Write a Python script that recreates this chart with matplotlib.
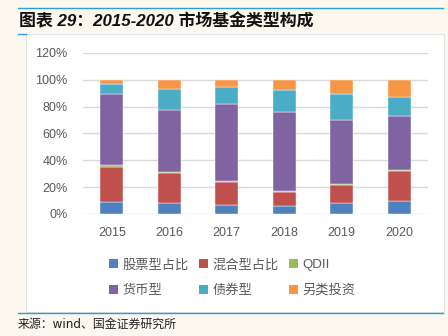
import matplotlib
matplotlib.use('Agg')
import matplotlib.pyplot as plt
from matplotlib.patches import Rectangle, Patch
from matplotlib.lines import Line2D
import numpy as np

plt.rcParams['font.family'] = ['Liberation Sans', 'Noto Sans CJK SC', 'DejaVu Sans']

years = ['2015', '2016', '2017', '2018', '2019', '2020']
series_names = ['股票型占比', '混合型占比', 'QDII', '货币型', '债券型', '另类投资']
stock = [9.2, 7.9, 6.7, 6.2, 8.2, 10.0]
mixed = [25.9, 22.3, 17.1, 10.0, 13.4, 22.3]
qdii = [1.2, 1.2, 0.5, 1.2, 0.5, 0.4]
money = [53.3, 46.3, 57.9, 58.5, 48.0, 40.2]
bond = [7.4, 15.1, 12.4, 16.6, 19.5, 14.2]
other = [3.0, 7.2, 5.4, 7.5, 10.4, 12.9]
colors = ['#4F81BD', '#C0504D', '#9BBB59', '#8064A2', '#4BACC6', '#F79646']

W, H = 448, 336
fig = plt.figure(figsize=(4.48, 3.36), dpi=100)
fig.patch.set_facecolor('#FCF8EF')

# white panel and blue rules
fig.patches.append(Rectangle((26 / W, 1 - 312 / H), 418 / W, 278 / H, transform=fig.transFigure,
                             facecolor='white', edgecolor='#E3E3E3', lw=0.8, zorder=-5))
blue = '#2A9FDB'
fig.add_artist(Line2D([18 / W, 443 / W], [1 - 8 / H] * 2, color=blue, lw=1.0))
fig.add_artist(Line2D([18 / W, 26 / W], [1 - 34 / H] * 2, color=blue, lw=1.0))
fig.add_artist(Line2D([18 / W, 443 / W], [1 - 313 / H] * 2, color=blue, lw=1.0))

fig.text(19 / W, 1 - 21 / H, '图表 29：2015-2020 市场基金类型构成', fontsize=12.2, fontweight='bold',
         style='italic', va='center', ha='left', color='#111111')
fig.text(18 / W, 1 - 324 / H, '来源：wind、国金证券研究所', fontsize=8.6, va='center', ha='left',
         color='#222222', family=['DejaVu Sans', 'Noto Sans CJK SC'])

ax = fig.add_axes([83 / W, 1 - 214 / H, 345 / W, 161 / H])
ax.set_facecolor('none')
data = np.array([stock, mixed, qdii, money, bond, other]) / 100.0
x = np.arange(len(years))
bottom = np.zeros(len(years))
for vals, c, name in zip(data, colors, series_names):
    ax.bar(x, vals, bottom=bottom, width=0.4, color=c, edgecolor='white', linewidth=0.3,
           label=name, zorder=3)
    bottom += vals

ax.set_xlim(-0.5, len(years) - 0.5)
ax.set_ylim(0, 1.2)
ax.set_yticks(np.arange(0, 1.21, 0.2))
ax.set_yticklabels(['%d%%' % round(v * 100) for v in np.arange(0, 1.21, 0.2)])
ax.set_xticks(x)
ax.set_xticklabels(years)
ax.tick_params(length=0, labelsize=9, labelcolor='#595959')
ax.tick_params(axis='y', pad=11)
ax.tick_params(axis='x', pad=9)
ax.yaxis.grid(True, color='#D9D9D9', lw=1.0, zorder=0)
for s in ax.spines.values():
    s.set_visible(False)

handles = [Patch(facecolor=c, edgecolor='none') for c in colors]
order = [0, 3, 1, 4, 2, 5]
fig.legend([handles[i] for i in order], [series_names[i] for i in order], ncol=3,
           loc='center', bbox_to_anchor=(232 / W, 1 - 278 / H), frameon=False,
           fontsize=9.5, labelcolor='#595959', handlelength=0.7, handleheight=0.7,
           handletextpad=0.3, columnspacing=0.8, labelspacing=1.0)

fig.savefig('out.png', dpi=100, facecolor=fig.get_facecolor())
